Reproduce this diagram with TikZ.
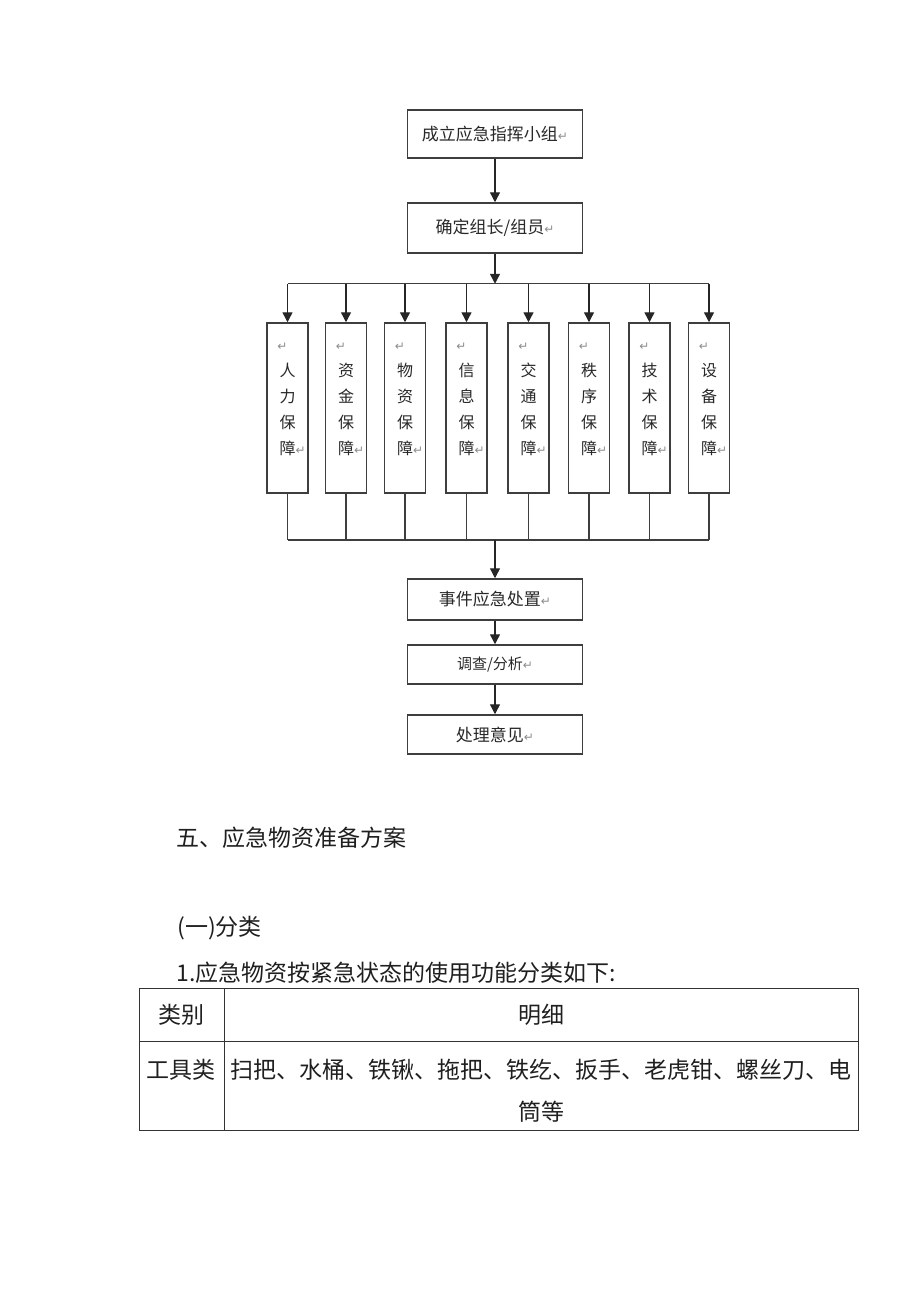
\documentclass[tikz,border=0pt]{standalone}
\usepackage{fontspec}
\setmainfont{Noto Sans CJK SC}
\newfontfamily\symfont{DejaVu Sans}
\usepackage{tikz}
\usetikzlibrary{arrows.meta,positioning,calc}
\definecolor{fcedge}{RGB}{62,62,62}
\definecolor{fcink}{RGB}{40,40,40}
\definecolor{pmgray}{RGB}{140,140,140}
\newcommand\pmark{{\symfont\fontsize{6}{6}\selectfont\color{pmgray}↵}}
\tikzset{
  fcbox/.style={
    draw=fcedge, line width=0.75pt, align=center, inner sep=0pt,
    minimum width=87.5pt, text=fcink, font=\fontsize{8.5}{10}\selectfont
  },
  vbox/.style={
    fcbox, minimum width=20.5pt, minimum height=85pt,
    font=\fontsize{8}{13}\selectfont
  },
  arr/.style={-{Triangle[length=5pt,width=5pt]}, draw=black!85, line width=0.7pt},
  ln/.style={draw=fcedge, line width=0.7pt},
  body/.style={font=\fontsize{11.5}{14}\selectfont, text=black!88, inner sep=0pt},
  tbl/.style={draw=black!80, line width=0.5pt}
}
\begin{document}
\begin{tikzpicture}[x=0.5pt,y=-0.5pt]
  \useasboundingbox (0,0) rectangle (920,1301);
  % flow chart
  \node[fcbox, minimum height=24pt] (lead) at (495,134) {成立应急指挥小组\pmark};
  \node[fcbox, minimum height=25pt] (crew) at (495,228) {确定组长/组员\pmark};
  \draw[arr] (lead.south) -- (crew.north);
  \coordinate (topbus) at ($(crew.south)+(0,30)$);
  \draw[arr] (crew.south) -- (topbus);
  \foreach \i/\x/\a/\b in {1/287.5/人/力, 2/346/资/金, 3/405/物/资, 4/466.5/信/息,
                           5/528.5/交/通, 6/589/秩/序, 7/649.5/技/术, 8/709/设/备}{
    \node[vbox] (g\i) at (\x,408) {\llap{\pmark}\\\a\\\b\\保\\障\rlap{\pmark}\\[-4pt]\mbox{}};
    \draw[arr] (g\i.north |- topbus) -- (g\i.north);
  }
  \draw[ln] (g1.north |- topbus) -- (g8.north |- topbus);
  \coordinate (botbus) at (495,540);
  \foreach \i in {1,...,8}
    \draw[ln] (g\i.south) -- (g\i.south |- botbus);
  \draw[ln] (g1.south |- botbus) -- (g8.south |- botbus);
  \node[fcbox, minimum height=20.5pt] (act) at (495,599.5) {事件应急处置\pmark};
  \node[fcbox, minimum height=19.5pt, font=\fontsize{7.5}{9}\selectfont] (probe) at (495,664.5) {调查/分析\pmark};
  \node[fcbox, minimum height=19.5pt] (view) at (495,734.5) {处理意见\pmark};
  \draw[arr] (botbus) -- (act.north);
  \draw[arr] (act.south) -- (probe.north);
  \draw[arr] (probe.south) -- (view.north);
  % text and table
  \node[body, anchor=west] (sec) at (176,838) {五、应急物资准备方案};
  \node[body, anchor=west] (sub) at (177,928) {(一)分类};
  \node[body, anchor=west] (intro) at (176,973) {1.应急物资按紧急状态的使用功能分类如下:};
  \draw[tbl] (139,988) rectangle (858,1130);
  \draw[tbl] (224,988) -- (224,1130);
  \draw[tbl] (139,1041) -- (858,1041);
  \node[body] (hkind) at (181,1015) {类别};
  \node[body] (hlist) at (541,1015) {明细};
  \node[body] (kind) at (181,1070) {工具类};
  \node[body] (list) at (541,1070) {扫把、水桶、铁锹、拖把、铁纥、扳手、老虎钳、螺丝刀、电};
  \node[body] (list2) at (541,1112) {筒等};
\end{tikzpicture}
\end{document}
